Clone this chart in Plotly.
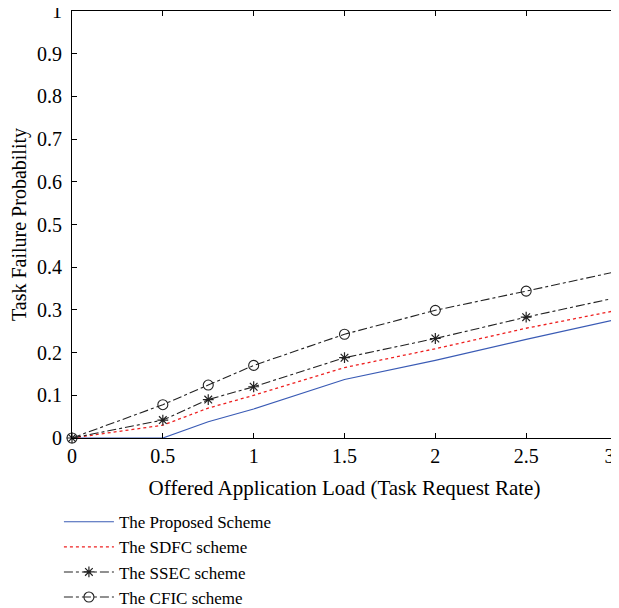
import plotly.graph_objects as go

load = [0, 0.5, 0.75, 1, 1.5, 2, 2.5, 3]
proposed = [0, 0, 0.038, 0.068, 0.137, 0.182, 0.231, 0.278]
sdfc = [0, 0.03, 0.07, 0.10, 0.165, 0.209, 0.257, 0.299]
ssec = [0, 0.042, 0.09, 0.12, 0.188, 0.233, 0.283, 0.329]
cfic = [0, 0.078, 0.124, 0.17, 0.243, 0.299, 0.344, 0.39]

names = ["The Proposed Scheme", "The SDFC scheme", "The SSEC scheme", "The CFIC scheme"]
xticks = [0, 0.5, 1, 1.5, 2, 2.5, 3]
xtick_text = ["0", "0.5", "1", "1.5", "2", "2.5", "3\u00a0\u00a0\u00a0"]
yticks = [0, 0.1, 0.2, 0.3, 0.4, 0.5, 0.6, 0.7, 0.8, 0.9, 1]
ytick_text = ["0", "0.1", "0.2", "0.3", "0.4", "0.5", "0.6", "0.7", "0.8", "0.9", "1"]

font = "Liberation Serif, Times New Roman, serif"
fs = 20

fig = go.Figure()
fig.add_trace(go.Scatter(x=load, y=proposed, name=names[0], mode="lines",
                         line=dict(color="#3a5bb5", width=1.2), cliponaxis=False))
fig.add_trace(go.Scatter(x=load, y=sdfc, name=names[1], mode="lines",
                         line=dict(color="#ee2020", width=1.3, dash="dot"), cliponaxis=False))
fig.add_trace(go.Scatter(x=load, y=ssec, name=names[2], mode="lines+markers",
                         line=dict(color="#222222", width=1.1, dash="dashdot"),
                         marker=dict(symbol="asterisk-open", size=9, color="#222222",
                                     line=dict(width=1.2, color="#222222")), cliponaxis=False))
fig.add_trace(go.Scatter(x=load, y=cfic, name=names[3], mode="lines+markers",
                         line=dict(color="#222222", width=1.1, dash="dashdot"),
                         marker=dict(symbol="circle-open", size=10, color="#222222",
                                     line=dict(width=1.1, color="#222222")), cliponaxis=False))

axis_common = dict(showgrid=False, zeroline=False, showline=True, linecolor="black",
                   linewidth=1, mirror="ticks", ticks="inside", ticklen=5,
                   tickcolor="black", automargin=False, ticklabeloverflow="allow",
                   tickfont=dict(family=font, size=fs, color="black"))

# the page body keeps an 8px margin, so the figure is 8px smaller each way
fig.update_layout(
    width=611, height=600,
    margin=dict(l=64, r=2, t=3, b=170, autoexpand=False),
    paper_bgcolor="white", plot_bgcolor="white",
    font=dict(family=font, size=fs, color="black"),
    xaxis=dict(range=[0, 3], tickvals=xticks, ticktext=xtick_text,
               title=dict(text="Offered Application Load (Task Request Rate)",
                          font=dict(family=font, size=21), standoff=14),
               **axis_common),
    yaxis=dict(range=[0, 1], tickvals=yticks, ticktext=ytick_text,
               ticklabelstandoff=5,
               title=dict(text="Task Failure Probability",
                          font=dict(family=font, size=fs), standoff=13),
               **axis_common),
    legend=dict(x=-0.024, y=-0.155, xanchor="left", yanchor="top",
                font=dict(family=font, size=17, color="black"),
                tracegroupgap=0, itemwidth=50, bgcolor="rgba(0,0,0,0)",
                traceorder="normal"),
    showlegend=True,
)

fig.write_html("out.html")
